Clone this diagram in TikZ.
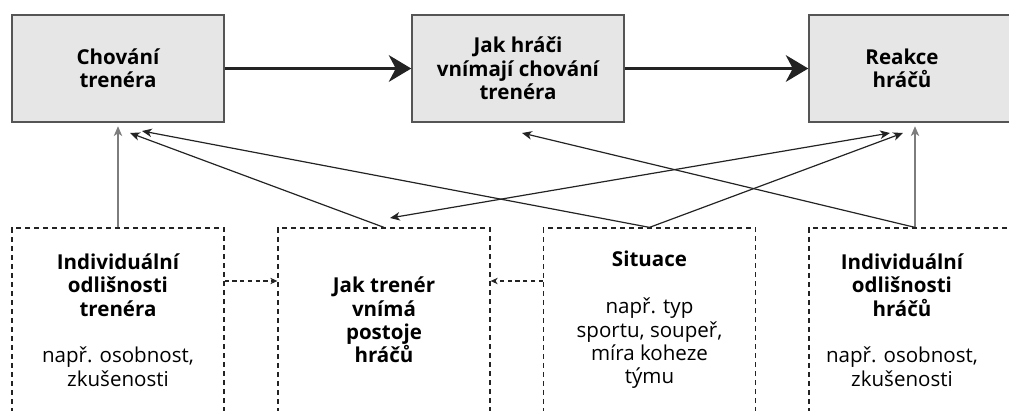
\documentclass[tikz,border=0pt]{standalone}
\usepackage{fontspec}
\setmainfont{Open Sans}
\usetikzlibrary{arrows.meta,positioning}
\definecolor{BoxGray}{RGB}{230,230,230}
\definecolor{EdgeGray}{RGB}{85,85,85}
\definecolor{StemGray}{RGB}{125,125,125}
\definecolor{InkDark}{RGB}{35,35,35}
\tikzset{
  topbox/.style={draw=EdgeGray,fill=BoxGray,line width=1pt,inner sep=0pt,
    minimum width=5.3cm,minimum height=2.675cm},
  lowbox/.style={draw=InkDark,dashed,dash pattern=on 3.6pt off 2.8pt,line width=0.85pt,
    inner sep=0pt,minimum width=5.3cm,minimum height=4.7cm},
  boxtext/.style={align=center,inner sep=0pt,font=\fontsize{14.6}{16.6}\selectfont\bfseries},
  mainarrow/.style={-{Stealth[length=16pt,width=19pt,inset=5pt]},line width=1.8pt,InkDark},
  thinarrow/.style={-{Stealth[length=7pt,width=6pt,inset=2pt]},line width=0.85pt,InkDark},
  twoarrow/.style={{Stealth[length=7pt,width=6pt,inset=2pt]}-{Stealth[length=7pt,width=6pt,inset=2pt]},
    line width=0.85pt,InkDark},
  stemarrow/.style={-{Stealth[length=7pt,width=6pt,inset=2pt]},line width=0.85pt,StemGray},
  dasharrow/.style={-{Stealth[length=5pt,width=4.5pt,inset=1.5pt]},dashed,
    dash pattern=on 3pt off 2.5pt,line width=0.75pt,InkDark}
}
\newcommand{\plain}{\mdseries}
\begin{document}
\begin{tikzpicture}[x=0.025cm,y=-0.025cm]
  \useasboundingbox (0,0) rectangle (1009,410);
  % top row
  \node[topbox,boxtext] (behav) at (118,68.5) {Chování\\trenéra};
  \node[topbox,boxtext] (plpercep) at (518,68.5) {Jak hráči\\vnímají chování\\trenéra};
  \node[topbox] (react) at (915,68.5) {};
  \node[boxtext] (reacttext) at (902,68.5) {Reakce\\hráčů};
  \draw[mainarrow] (behav) -- (plpercep);
  \draw[mainarrow] (plpercep) -- (react);
  % bottom row
  \node[lowbox] (indtr) at (118,322) {};
  \node[boxtext] (indtrtext) at (118,320)
    {Individuální\\odlišnosti\\trenéra\\[16.6pt]\plain např. osobnost,\\\plain zkušenosti};
  \node[lowbox] (trpercep) at (384,322) {};
  \node[boxtext] (trpercepttext) at (384,320) {Jak trenér\\vnímá\\postoje\\hráčů};
  \node[lowbox] (sit) at (649.5,322) {};
  \node[boxtext] (sittext) at (649.5,320)
    {Situace\\[16.6pt]\plain např. typ\\\plain sportu, soupeř,\\\plain míra koheze\\\plain týmu};
  \node[lowbox] (indpl) at (915,322) {};
  \node[boxtext] (indpltext) at (902,320)
    {Individuální\\odlišnosti\\hráčů\\[16.6pt]\plain např. osobnost,\\\plain zkušenosti};
  % arrow ends below the top boxes
  \coordinate (dashy) at (0,281);
  \coordinate (behavA) at (130,133);
  \coordinate (behavB) at (142,131);
  \coordinate (plpercepA) at (522,133);
  \coordinate (reactA) at (890,133);
  \coordinate (reactB) at (903,133);
  \coordinate (trpercepA) at (390,218);
  \draw[stemarrow,shorten >=2.5pt] (indtr.north) -- (behav.south);
  \draw[stemarrow,shorten >=2.5pt] (indpl.north) -- (react.south);
  \draw[thinarrow] (trpercep.north) -- (behavA);
  \draw[thinarrow] (sit.north) -- (behavB);
  \draw[thinarrow] (sit.north) -- (reactB);
  \draw[thinarrow] (indpl.north) -- (plpercepA);
  \draw[twoarrow] (reactA) -- (trpercepA);
  \draw[dasharrow] (indtr.east |- dashy) -- (trpercep.west |- dashy);
  \draw[dasharrow] (sit.west |- dashy) -- (trpercep.east |- dashy);
\end{tikzpicture}
\end{document}
